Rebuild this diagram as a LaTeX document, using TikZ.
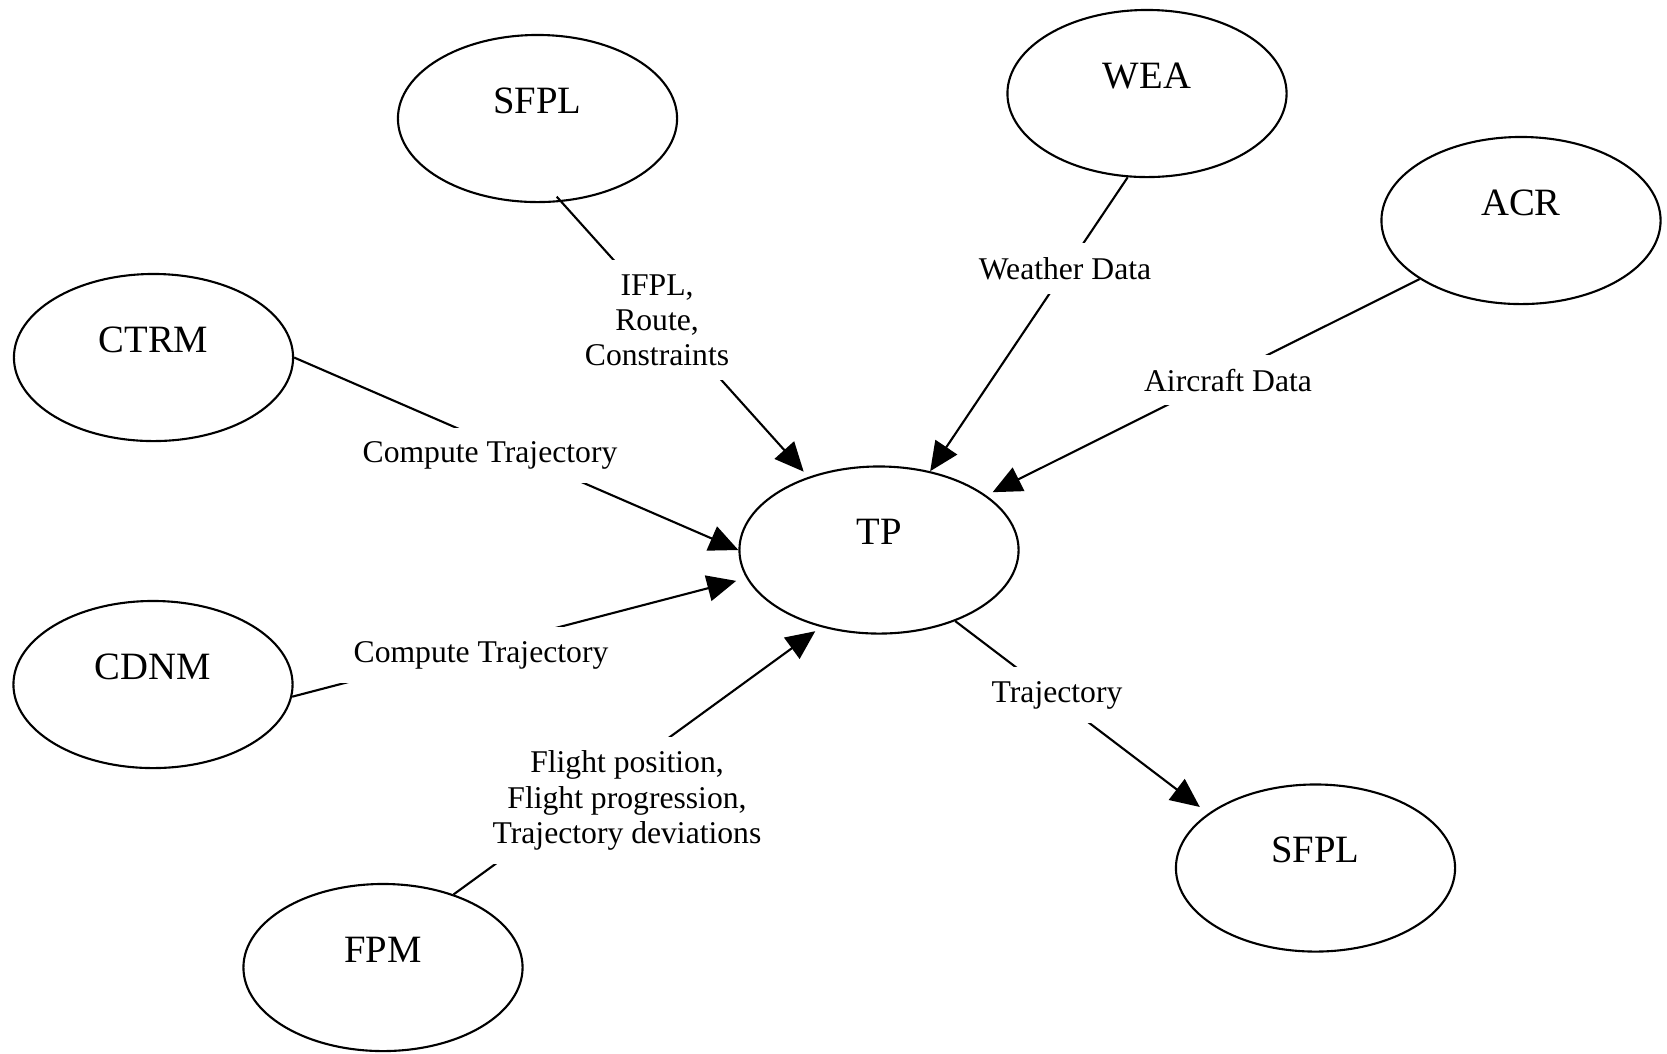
\documentclass[tikz,border=0pt]{standalone}
\usepackage{fontspec}
\setmainfont{Liberation Serif}
\usetikzlibrary{arrows.meta,shapes.geometric}

\tikzset{
  unit/.style={ellipse, draw, line width=0.6pt, minimum width=2.79cm, minimum height=1.67cm,
    inner sep=0pt, text depth=10.2pt, font=\fontsize{11}{13}\selectfont},
  flow/.style={line width=0.6pt, -{Triangle[length=2.9mm,width=2.6mm]}, shorten >=2pt},
  lbl/.style={fill=white, inner sep=4pt, align=center, font=\fontsize{9}{10}\selectfont}
}

\begin{document}
\begin{tikzpicture}[x=0.01cm, y=-0.01cm]
		%%%%% START %%%%%
		\useasboundingbox (0,0) rectangle (1667,1053);
		
		\node[unit] (sfplA) at (537.5,118.5) {SFPL};
		\node[unit] (wea) at (1147,93.5) {WEA};
		\node[unit] (acr) at (1521,220.5) {ACR};
		\node[unit] (ctrm) at (153.5,357.5) {CTRM};
		\node[unit] (tp) at (879,550) {TP};
		\node[unit] (cdnm) at (153,684.5) {CDNM};
		\node[unit] (fpm) at (383,967.5) {FPM};
		\node[unit] (sfplB) at (1315.5,868) {SFPL};
		
		\draw[flow, shorten <=-2pt] (sfplA.-74) -- (tp.134);
		\draw[flow, shorten >=0pt] (wea.257) -- (tp.57);
		\draw[flow] (acr.210) -- (tp.27);
		\draw[flow, shorten >=0pt] (ctrm.east) -- (tp.west);
		\draw[flow, shorten >=3pt] (cdnm.-5) -- (tp.192);
		\draw[flow] (fpm.46) -- (tp.233);
		\draw[flow, shorten >=3pt] (tp.-43.5) -- (sfplB.153);
		
		\node[lbl] (lroute) at (657,320) {IFPL,\\Route,\\Constraints};
		\node[lbl, anchor=base] (lweather) at (1065,279) {Weather Data};
		\node[lbl, anchor=base] (laircraft) at (1228,391) {Aircraft Data};
		\node[lbl, anchor=base] (lcomputeA) at (490,462.5) {Compute Trajectory};
		\node[lbl, anchor=base] (lcomputeB) at (481,662) {Compute Trajectory};
		\node[lbl] (lflight) at (627,800.5) {Flight position,\\Flight progression,\\Trajectory deviations};
		\node[lbl, anchor=base] (ltraj) at (1057,702) {Trajectory};
		%%%%% END %%%%%
\end{tikzpicture}
\end{document}
